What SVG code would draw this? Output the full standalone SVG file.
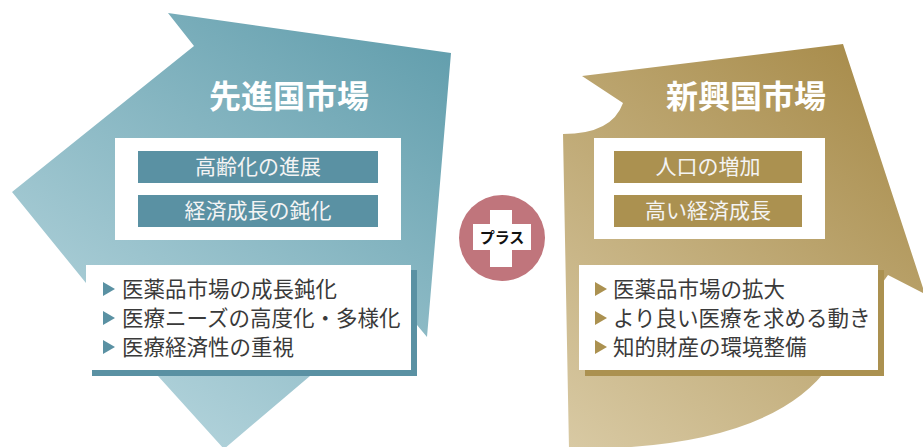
<svg xmlns="http://www.w3.org/2000/svg" width="923" height="447" viewBox="0 0 923 447">
  <style>
    .title { font-family: "Noto Sans CJK JP", "Noto Sans", sans-serif; font-weight: bold; font-size: 32px; fill: #ffffff; text-anchor: middle; }
    .bar { font-family: "Noto Sans CJK JP", "Noto Sans", sans-serif; font-size: 21px; fill: #f4f4f4; text-anchor: middle; }
    .item { font-family: "Noto Sans CJK JP", "Noto Sans", sans-serif; font-size: 21.5px; fill: #3a3a3a; }
    .plus { font-family: "Noto Sans CJK JP", "Noto Sans", sans-serif; font-weight: bold; font-size: 15px; fill: #111111; text-anchor: middle; }
    .teal { fill: #5a91a3; }
    .gold { fill: #ab9150; }
    .white { fill: #ffffff; }
  </style>
  <defs>
    <linearGradient id="gTeal" gradientUnits="userSpaceOnUse" x1="450" y1="20" x2="160" y2="447">
      <stop offset="0" stop-color="#5f9cab"/>
      <stop offset="1" stop-color="#b4d4dc"/>
    </linearGradient>
    <linearGradient id="gGold" gradientUnits="userSpaceOnUse" x1="880" y1="60" x2="570" y2="447">
      <stop offset="0" stop-color="#a88c4b"/>
      <stop offset="1" stop-color="#d8c9a3"/>
    </linearGradient>
    <polygon id="tri" points="0,-7 12,0 0,7"/>
  </defs>

  <g id="developed-market">
    <polygon fill="url(#gTeal)" points="168,13 451,53 427,337 417,325 400,330 310,376 224,449 158,376 86,283 12,192 194,46"/>
    <text class="title" x="289" y="108">先進国市場</text>
    <g id="developed-factors">
      <rect class="white" x="115" y="138" width="286" height="102"/>
      <rect class="teal" x="138" y="151" width="240" height="32"/>
      <text class="bar" x="258" y="174">高齢化の進展</text>
      <rect class="teal" x="138" y="195" width="240" height="32"/>
      <text class="bar" x="258" y="218">経済成長の鈍化</text>
    </g>
    <g id="developed-effects">
      <rect class="teal" x="92" y="270" width="325" height="106"/>
      <rect class="white" x="86" y="265" width="325" height="105"/>
      <use href="#tri" class="teal" x="103" y="289"/>
      <use href="#tri" class="teal" x="103" y="318"/>
      <use href="#tri" class="teal" x="103" y="347"/>
      <text class="item" x="122" y="297">医薬品市場の成長鈍化</text>
      <text class="item" x="122" y="326">医療ニーズの高度化・多様化</text>
      <text class="item" x="122" y="355">医療経済性の重視</text>
    </g>
  </g>

  <g id="plus">
    <circle cx="502" cy="238" r="43" fill="#c0757c"/>
    <rect class="white" x="490" y="210" width="22" height="57"/>
    <rect class="white" x="473" y="224" width="58" height="26"/>
    <text class="plus" x="502" y="243">プラス</text>
  </g>

  <g id="emerging-market">
    <path fill="url(#gGold)" d="M582 76 L843 44 L925 294 L888 275 L870 300 L830 365 Q770 450 569 449 L563 134 Q612 134 623 103 Z"/>
    <text class="title" x="746" y="108">新興国市場</text>
    <g id="emerging-factors">
      <rect class="white" x="594" y="138" width="231" height="101"/>
      <rect class="gold" x="614" y="151" width="188" height="32"/>
      <text class="bar" x="708" y="174">人口の増加</text>
      <rect class="gold" x="614" y="195" width="188" height="32"/>
      <text class="bar" x="708" y="218">高い経済成長</text>
    </g>
    <g id="emerging-effects">
      <rect class="gold" x="585" y="270" width="299" height="106"/>
      <rect class="white" x="579" y="265" width="299" height="105"/>
      <use href="#tri" class="gold" x="595" y="289"/>
      <use href="#tri" class="gold" x="595" y="318"/>
      <use href="#tri" class="gold" x="595" y="347"/>
      <text class="item" x="613" y="297">医薬品市場の拡大</text>
      <text class="item" x="613" y="326">より良い医療を求める動き</text>
      <text class="item" x="613" y="355">知的財産の環境整備</text>
    </g>
  </g>

  <g id="connectors"/>
</svg>
